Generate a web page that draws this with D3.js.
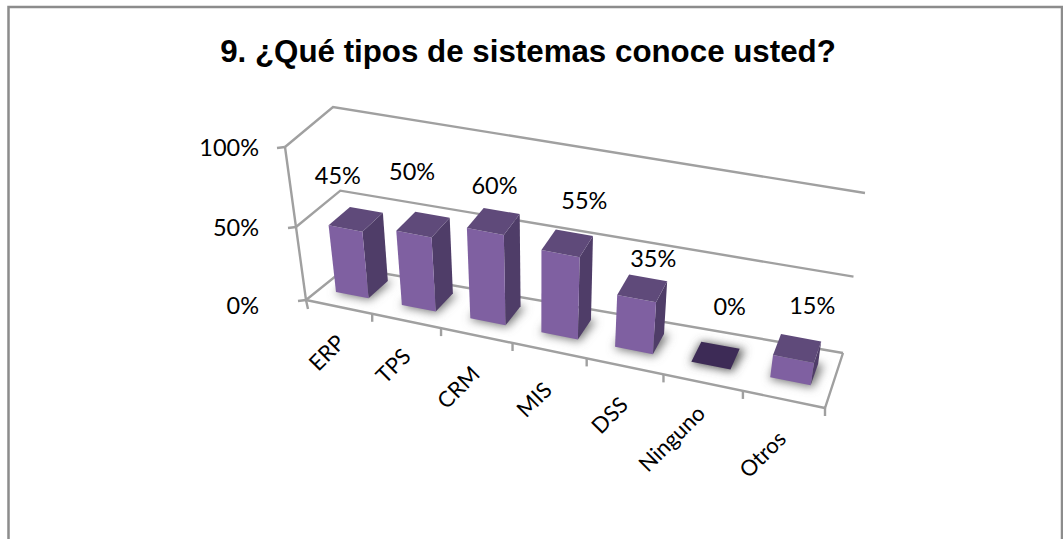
<!DOCTYPE html>
<html><head><meta charset="utf-8">
<script src="https://cdn.jsdelivr.net/npm/d3@7"></script>
<style>html,body{margin:0;padding:0;background:#fff;overflow:hidden}svg{display:block}</style>
</head><body><svg id="c" width="1063" height="539"></svg>
<script>
const titleText = "9. ¿Qué tipos de sistemas conoce usted?";
const categories = ["ERP","TPS","CRM","MIS","DSS","Ninguno","Otros"];
const values = [45,50,60,55,35,0,15];
const yTicks = [0,50,100];

// layout, kept apart from the data
const floor = {fl:[306,300], fr:[825,408], bl:[347,267], br:[843,353]};
const lift = {fl:[-21,-153], fr:[26,-153], bl:[-14,-160], br:[22,-160]};
const labelNudge = [[-18,-43],[-11,-52],[1,-35],[17,-42],[11,-29],[14,-48],[15,-42]];
const catNudge = [[-12,46],[-13,45],[-18,52],[-15,49],[-15,49],[-31,56],[-21,55]];
const depthFront = 0.34, depthBackLeft = 0.84, depthBackRight = 0.72;
const warpStart = 0.875;

const lerp=(a,b,t)=>a+(b-a)*t;
const warp=u=>u*(warpStart+(1-warpStart)*u);
function onFloor(u,v){
  const w=warp(u), a=[lerp(floor.fl[0],floor.fr[0],w),lerp(floor.fl[1],floor.fr[1],w)],
        b=[lerp(floor.bl[0],floor.br[0],w),lerp(floor.bl[1],floor.br[1],w)];
  return [lerp(a[0],b[0],v),lerp(a[1],b[1],v)];
}
const x = d3.scaleBand().domain(categories).range([0,1]).paddingInner(0.5).paddingOuter(0.25);
const xStep = d3.scaleBand().domain(categories).range([0,1]);
const y = d3.scaleLinear().domain(yTicks).range([0,0.477,1]);
function project(u,v,val){
  const p=onFloor(u,v), t=y(val), w=warp(u);
  const lx=lerp(lerp(lift.fl[0],lift.fr[0],w),lerp(lift.bl[0],lift.br[0],w),v);
  const ly=lerp(lerp(lift.fl[1],lift.fr[1],w),lerp(lift.bl[1],lift.br[1],w),v);
  return [p[0]+lx*t,p[1]+ly*t];
}
const svg=d3.select("#c");
const defs=svg.append("defs");
defs.append("filter").attr("id","blur").attr("x","-40%").attr("y","-40%").attr("width","180%").attr("height","180%")
  .append("feGaussianBlur").attr("stdDeviation",5);

// frame
svg.append("path").attr("d","M8.5,539V7H1062V539").attr("fill","none").attr("stroke","#8c8c8c").attr("stroke-width",2.5);

svg.append("text").attr("x",528).attr("y",62).attr("text-anchor","middle")
  .attr("font-family","Liberation Sans").attr("font-weight",700).attr("font-size",31.3).attr("fill","#000").text(titleText);

const gridStyle=s=>s.attr("fill","none").attr("stroke","#a0a0a0").attr("stroke-width",2.4);
const line=d3.line();
const g=svg.append("g");
yTicks.forEach(t=>{
  g.append("path").attr("d",line([project(0,0,t),project(0,1,t),project(1,1,t)])).call(gridStyle);
  const a=project(0,0,t);
  g.append("path").attr("d",line([a,[a[0]-8,a[1]+1]])).call(gridStyle);
  svg.append("text").attr("x",259).attr("y",a[1]+(t===0?14:9)).attr("text-anchor","end")
    .attr("font-family","Lato").attr("font-size",23.5).attr("fill","#000").text(t+"%");
});
// vertical axis, floor edges, ticks
g.append("path").attr("d",line([project(0,0,100),project(0,0,50),project(0,0,0),[308,309]])).call(gridStyle);
g.append("path").attr("d",line([project(0,0,0),project(1,0,0),project(1,1,0)])).call(gridStyle);
d3.range(1,categories.length+1).forEach(i=>{
  const a=onFloor(i/categories.length,0);
  g.append("path").attr("d",line([a,[a[0],a[1]+8]])).call(gridStyle);
});

// shadows then bars
const bars=svg.append("g");
const poly=pts=>line(pts)+"Z";
const backOf=u=>lerp(depthBackLeft,depthBackRight,u);
categories.forEach((c,i)=>{
  const u0=x(c),u1=u0+x.bandwidth(),v0=depthFront,v1=backOf(u0),val=values[i];
  bars.append("path").attr("d",poly([project(u0,v0-0.03,0),project(u1+0.005,v0-0.03,0),project(u1+0.01,v1,0),project(u0,v1,0)]))
    .attr("fill",val===0?"#555":"#777").attr("filter","url(#blur)");
});
categories.forEach((c,i)=>{
  const u0=x(c),u1=u0+x.bandwidth(),v0=depthFront,v1=backOf(u0),val=values[i];
  if(val>0){
    bars.append("path").attr("d",poly([project(u1,v0,0),project(u1,v1,0),project(u1,v1,val),project(u1,v0,val)])).attr("fill","#4f3d68");
    bars.append("path").attr("d",poly([project(u0,v0,0),project(u1,v0,0),project(u1,v0,val),project(u0,v0,val)])).attr("fill","#7f60a1");
  }
  bars.append("path").attr("d",poly([project(u0,v0,val),project(u1,v0,val),project(u1,v1,val),project(u0,v1,val)]))
    .attr("fill",val===0?"#3d2b56":"#5f4a7a");
  const top=project((u0+u1)/2,(v0+v1)/2,val);
  svg.append("text").attr("x",top[0]+labelNudge[i][0]).attr("y",top[1]+labelNudge[i][1]+8)
    .attr("text-anchor","middle").attr("font-family","Lato").attr("font-size",23.5).attr("fill","#000").text(val+"%");
  const m=onFloor(xStep(c)+xStep.bandwidth()/2,0), cx=m[0]+catNudge[i][0], cy=m[1]+catNudge[i][1];
  svg.append("text").attr("transform",`translate(${cx},${cy}) rotate(-45)`).attr("dy","0.35em")
    .attr("text-anchor","middle").attr("font-family","Lato").attr("font-size",22).attr("fill","#000").text(c);
});
</script></body></html>
